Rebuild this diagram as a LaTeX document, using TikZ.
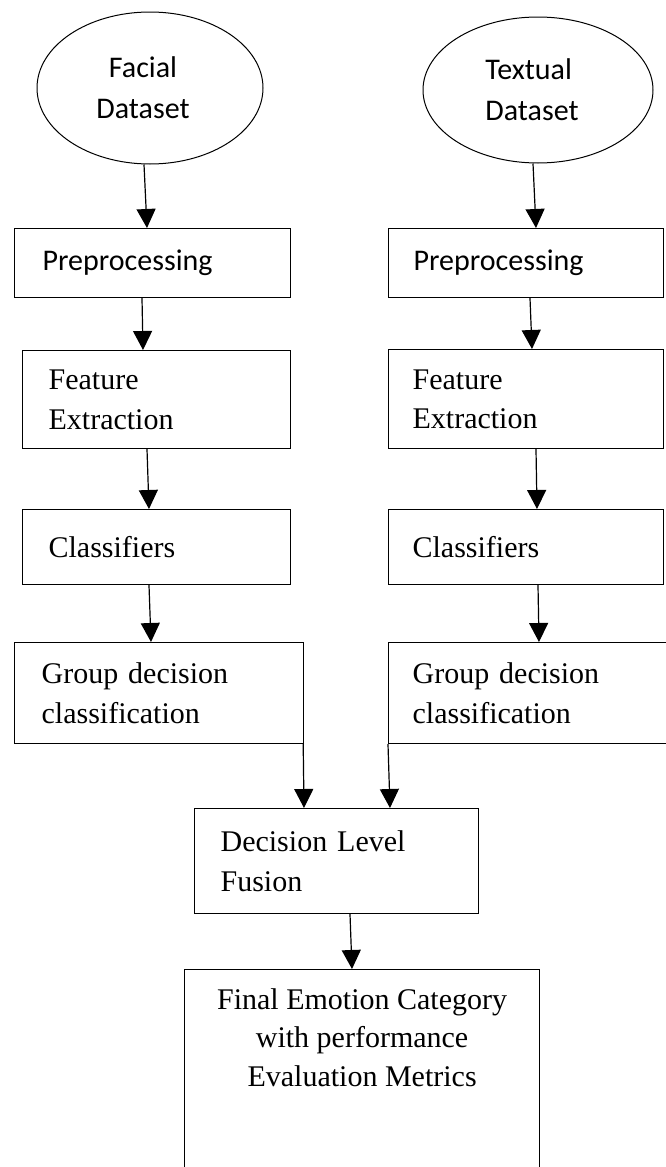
\documentclass[tikz,border=0pt]{standalone}
\usepackage{fontspec}
\setmainfont{Liberation Serif}
\newfontfamily\calfont{Carlito}
\usetikzlibrary{arrows.meta,shapes.geometric}
\tikzset{
  boxnode/.style={draw, line width=1.2pt, rectangle, anchor=north west, inner ysep=0pt,
    align=left, font=\fontsize{30}{39.5}\selectfont},
  ellnode/.style={draw, line width=1pt, ellipse, inner sep=0pt, align=center,
    font=\calfont\fontsize{30}{41}\selectfont},
  arr/.style={line width=1.2pt, -{Triangle[width=19pt,length=19pt]}}
}
\begin{document}
\begin{tikzpicture}[x=1pt,y=1pt]
\useasboundingbox (0,0) rectangle (665,-1167);
% datasets
\node[ellnode, minimum width=226pt, minimum height=152pt] (fdata) at (150,-88)
  {Facial\hspace*{14pt}\\Dataset\hspace*{14pt}};
\node[ellnode, minimum width=230pt, minimum height=146pt, align=left] (tdata) at (538,-90)
  {\raisebox{-4pt}{Textual}\hspace*{12pt}\\\raisebox{-4pt}{Dataset}\hspace*{12pt}};
% left column
\node[boxnode, font=\calfont\fontsize{30}{39.5}\selectfont, inner xsep=28pt, text width=220pt,
  minimum width=276pt, minimum height=69pt] (lpre) at (14,-228) {Preprocessing};
\node[boxnode, inner xsep=26pt, text width=216pt, minimum width=268pt, minimum height=98pt]
  (lfeat) at (22,-350) {Feature\\Extraction};
\node[boxnode, inner xsep=26pt, text width=216pt, minimum width=268pt, minimum height=75pt]
  (lcls) at (22,-509) {Classifiers};
\node[boxnode, inner xsep=27pt, text width=235pt, minimum width=289pt, minimum height=101pt]
  (lgrp) at (14,-642) {Group decision\\classification};
% right column
\node[boxnode, font=\calfont\fontsize{30}{39.5}\selectfont, inner xsep=25pt, text width=225pt,
  minimum width=275pt, minimum height=69pt] (rpre) at (388,-228) {Preprocessing};
\node[boxnode, inner xsep=24pt, text width=227pt, minimum width=275pt, minimum height=99pt]
  (rfeat) at (388,-349) {Feature\\Extraction};
\node[boxnode, inner xsep=24pt, text width=227pt, minimum width=275pt, minimum height=75pt]
  (rcls) at (388,-509) {Classifiers};
\node[boxnode, inner xsep=24pt, text width=252pt, minimum width=300pt, minimum height=101pt]
  (rgrp) at (388,-642) {Group decision\\classification};
% fusion and final
\node[boxnode, inner xsep=26pt, text width=232pt, minimum width=284pt, minimum height=105pt]
  (fusion) at (194,-808) {Decision Level\\Fusion};
\node[boxnode, minimum width=355pt, minimum height=240pt] (final) at (184,-969) {};
\node[anchor=north, align=center, inner sep=0pt, font=\fontsize{30}{38.5}\selectfont]
  (finaltxt) at ([yshift=-19pt]final.north) {Final Emotion Category\\with performance\\Evaluation Metrics};
% connectors
\draw[arr] ([xshift=-6pt]fdata.south) -- ([xshift=133pt]lpre.north west);
\draw[arr] ([xshift=-5pt]tdata.south) -- ([xshift=148pt]rpre.north west);
\draw[arr] ([xshift=128pt]lpre.south west) -- ([xshift=121pt]lfeat.north west);
\draw[arr] ([xshift=142pt]rpre.south west) -- ([xshift=144pt]rfeat.north west);
\draw[arr] ([xshift=125pt]lfeat.south west) -- ([xshift=127pt]lcls.north west);
\draw[arr] ([xshift=148pt]rfeat.south west) -- ([xshift=149pt]rcls.north west);
\draw[arr] ([xshift=127pt]lcls.south west) -- ([xshift=137pt]lgrp.north west);
\draw[arr] ([xshift=150pt]rcls.south west) -- ([xshift=151pt]rgrp.north west);
\draw[arr] ([xshift=-1pt]lgrp.south east) -- ([xshift=110pt]fusion.north west);
\draw[arr] (rgrp.south west) -- ([xshift=196pt]fusion.north west);
\draw[arr] ([xshift=156pt]fusion.south west) -- ([xshift=168pt]final.north west);
\end{tikzpicture}
\end{document}
